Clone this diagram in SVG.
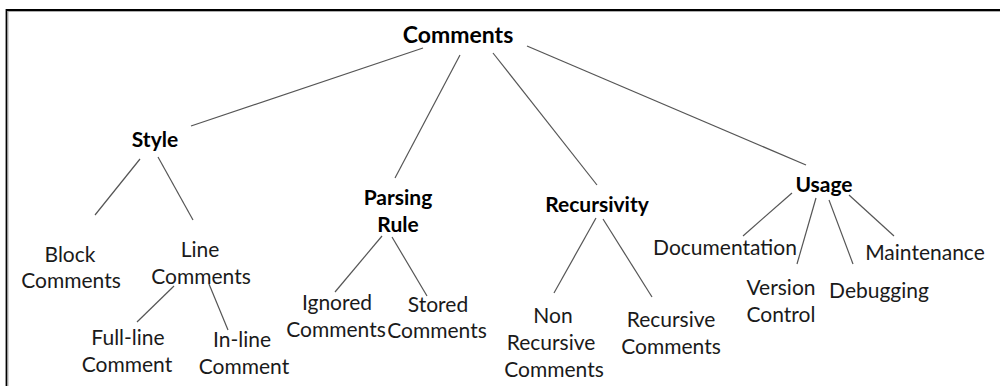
<svg xmlns="http://www.w3.org/2000/svg" width="1000" height="386" viewBox="0 0 1000 386">
<style>
text{font-family:Lato,"Liberation Sans",sans-serif;font-size:21px;fill:#1a1a1a;text-anchor:middle}
.b{font-weight:bold;fill:#000}
.t{font-size:23px}
.c line{stroke:#555;stroke-width:1.2}
</style>
<rect width="1000" height="386" fill="#fff"/>
<path d="M6.5,386 V10 H1000" fill="none" stroke="#000" stroke-width="1.8"/>
<path d="M8,386 V11.5 H1000" fill="none" stroke="#999" stroke-width="0.8"/>
<g class="c" id="connectors">
<line x1="423" y1="48" x2="191" y2="126"/>
<line x1="460" y1="55" x2="395" y2="178"/>
<line x1="493" y1="53" x2="597" y2="185"/>
<line x1="527" y1="46" x2="806" y2="165"/>
<line x1="140" y1="159" x2="95" y2="215"/>
<line x1="158" y1="157" x2="193" y2="220"/>
<line x1="174" y1="286" x2="137" y2="322"/>
<line x1="209" y1="284" x2="228" y2="330"/>
<line x1="382" y1="236" x2="335" y2="292"/>
<line x1="392" y1="237" x2="427" y2="296"/>
<line x1="596" y1="218" x2="554" y2="293"/>
<line x1="603" y1="219" x2="652" y2="297"/>
<line x1="792" y1="193" x2="743" y2="236"/>
<line x1="816" y1="198" x2="797" y2="264"/>
<line x1="829" y1="200" x2="853" y2="264"/>
<line x1="849" y1="195" x2="894" y2="236"/>
</g>
<g id="comments"><text class="b t" x="458" y="43">Comments</text></g>
<g id="style"><text class="b" x="155" y="147">Style</text></g>
<g id="parsing"><text class="b" x="398" y="205">Parsing</text><text class="b" x="398" y="232">Rule</text></g>
<g id="recursivity"><text class="b" x="597" y="212">Recursivity</text></g>
<g id="usage"><text class="b" x="824" y="192">Usage</text></g>
<g id="block"><text x="70" y="262">Block</text><text x="71" y="288">Comments</text></g>
<g id="line"><text x="200" y="257">Line</text><text x="201" y="284">Comments</text></g>
<g id="fullline"><text x="128" y="345">Full-line</text><text x="127" y="372">Comment</text></g>
<g id="inline"><text x="242" y="347">In-line</text><text x="244" y="374">Comment</text></g>
<g id="ignored"><text x="337" y="310">Ignored</text><text x="336" y="337">Comments</text></g>
<g id="stored"><text x="438" y="312">Stored</text><text x="437" y="338">Comments</text></g>
<g id="nonrec"><text x="553" y="323">Non</text><text x="551" y="350">Recursive</text><text x="554" y="377">Comments</text></g>
<g id="rec"><text x="671" y="327">Recursive</text><text x="671" y="354">Comments</text></g>
<g id="documentation"><text x="725" y="255">Documentation</text></g>
<g id="version"><text x="781" y="295">Version</text><text x="781" y="322">Control</text></g>
<g id="debugging"><text x="879" y="298">Debugging</text></g>
<g id="maintenance"><text x="925" y="260">Maintenance</text></g>
</svg>
